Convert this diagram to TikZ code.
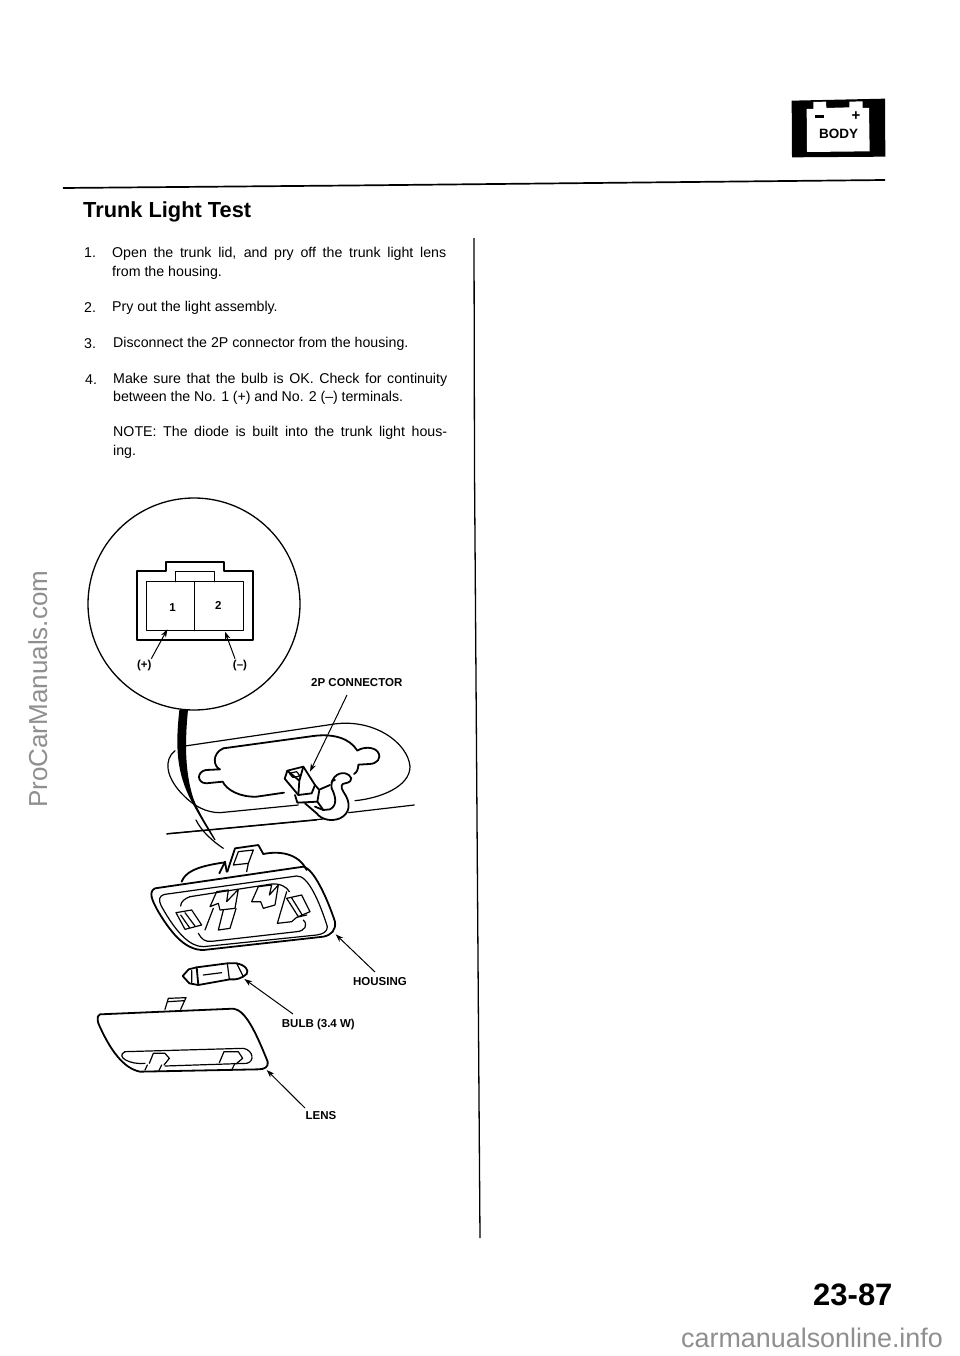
\documentclass[tikz,border=0pt]{standalone}
\usepackage{fontspec}
\setmainfont{Liberation Sans}
\usetikzlibrary{arrows.meta}
\definecolor{mark}{gray}{0.56}
\newcommand{\fitline}[2]{\makebox[#1pt][s]{#2}}
\tikzset{
  x=1pt,y=-1pt,
  bodyline/.style={anchor=base west,inner sep=0pt,font=\fontsize{14.2}{16}\selectfont},
  calloutlabel/.style={inner sep=0pt,font=\bfseries\fontsize{11.5}{13}\selectfont},
  leader/.style={line width=1pt,-{Stealth[length=8pt,width=5.5pt]}},
  art/.style={line width=1.2pt,line join=round,line cap=round},
  heavy/.style={line width=1.8pt,line join=round,line cap=round},
  zoomA/.style={shift={(80,490)},scale=1/3},
  zoomB/.style={shift={(90,820)},scale=1/3},
  zoomC/.style={shift={(750,80)},scale=1/3},
  zoomD/.style={shift={(280,740)},scale=1/3},
}
\begin{document}
\begin{tikzpicture}
\useasboundingbox[fill=white] (0,0) rectangle (960,1356);

% page furniture
\draw[line width=1.7pt] (63,188) -- (350,185.5) -- (885,180);
\draw[line width=1.3pt] (474,238) -- (474.5,470) -- (480,1238);

% battery badge
\begin{scope}[zoomC]
\fill (125,62) -- (405,56) -- (406,230) -- (126,232) -- cycle;
\fill[white] (170,87) -- (190,87) -- (190,66) -- (228,65) -- (229,84) -- (298,82) -- (298,65) -- (338,64) -- (338,84) -- (357,84) -- (359,214) -- (171,216) -- cycle;
\node[inner sep=0pt,font=\bfseries\fontsize{13.5}{15}\selectfont] (badge) at (266,162) {BODY};
\fill (194,106) rectangle (223,113);
\node[inner sep=0pt,font=\bfseries\fontsize{15}{15}\selectfont] (plus) at (318,107) {+};
\end{scope}

% text
\node[anchor=base west,inner sep=0pt,font=\bfseries\fontsize{21.8}{24}\selectfont] (title) at (83,218) {Trunk Light Test};
\node[bodyline] (n1) at (84,258) {1.};
\node[bodyline] (t1a) at (112,257.5) {\fitline{334}{Open the trunk lid, and pry off the trunk light lens}};
\node[bodyline] (t1b) at (112,276.5) {from the housing.};
\node[bodyline] (n2) at (84,312) {2.};
\node[bodyline] (t2) at (112,311.5) {Pry out the light assembly.};
\node[bodyline] (n3) at (84,348) {3.};
\node[bodyline] (t3) at (113,347) {Disconnect the 2P connector from the housing.};
\node[bodyline] (n4) at (85,384) {4.};
\node[bodyline] (t4a) at (113,383) {\fitline{334}{Make sure that the bulb is OK. Check for continuity}};
\node[bodyline] (t4b) at (113,401.5) {\fitline{290}{between the No. 1 (+) and No. 2 (–) terminals.}};
\node[bodyline] (t5a) at (113,436.5) {\fitline{334}{NOTE: The diode is built into the trunk light hous-}};
\node[bodyline] (t5b) at (113,455) {ing.};

\node[anchor=base west,inner sep=0pt,font=\bfseries\fontsize{31}{34}\selectfont] (pageno) at (813,1305) {23-87};
\node[anchor=base west,inner sep=0pt,text=mark,font=\fontsize{26.9}{30}\selectfont] (wm2) at (681,1347) {carmanualsonline.info};
\node[anchor=base west,inner sep=0pt,text=mark,rotate=90,font=\fontsize{26}{28}\selectfont] (wm1) at (47,808) {ProCarManuals.com};

% magnified connector
\node[circle,draw,line width=1.3pt,minimum size=212pt,inner sep=0pt] (detail) at (194,604) {};
\begin{scope}[zoomA]
\draw[heavy] (172,243) -- (257,243) -- (257,215) -- (433,215) -- (433,243) -- (519,243) -- (519,451) -- (172,451) -- cycle;
\draw[art] (200,275) rectangle (490,422);
\draw[art] (343,275) -- (343,422);
\draw[art] (287,275) -- (287,245) -- (403,245) -- (403,275);
\coordinate (pin1) at (262,418);
\coordinate (pin2) at (435,425);
\node[calloutlabel] (one) at (278,352) {1};
\node[calloutlabel] (two) at (415,347) {2};
\node[calloutlabel] (pos) at (193,527) {(+)};
\node[calloutlabel] (neg) at (480,527) {(–)};
% wire to the connector
\fill (298,660) .. controls (290,740) and (282,830) .. (330,925) .. controls (350,965) and (380,1015) .. (403,1050) -- (407,1050) .. controls (385,1010) and (360,975) .. (340,925) .. controls (312,840) and (316,740) .. (324,660) -- cycle;
\end{scope}
\draw[leader] (pos) ++(7,-7) coordinate (posf) -- (pin1);
\draw[leader] (neg) ++(-5,-7) coordinate (negf) -- (pin2);

% mounting plate with 2P connector
\begin{scope}[zoomA]
\draw[art] (315,768) -- (750,704) .. controls (880,680) and (985,760) .. (990,830) .. controls (990,890) and (900,925) .. (825,932);
\draw[art] (285,782) .. controls (250,810) and (260,860) .. (300,905) .. controls (340,950) and (380,968) .. (420,968) -- (655,945);
\draw[art] (262,1031) -- (730,987);
\draw[art] (806,968) -- (1003,945);
\draw[heavy] (430,775) -- (700,738) .. controls (760,730) and (810,745) .. (832,782) .. controls (850,770) and (880,770) .. (893,785) .. controls (907,805) and (890,822) .. (868,822) -- (835,824) .. controls (835,838) and (830,848) .. (822,852);
\draw[heavy] (720,885) -- (765,870);
\draw[heavy] (612,908) -- (530,920) .. controls (480,922) and (440,900) .. (428,875) -- (378,880) .. controls (350,878) and (350,845) .. (378,840) -- (420,838) .. controls (400,830) and (395,790) .. (430,775);
\end{scope}
\begin{scope}[zoomD]
\fill[white] (55,75) -- (15,115) -- (50,185) -- (120,190) -- (160,110) -- (100,125) -- cycle;
\draw[heavy] (14,116) -- (22,92) -- (70,80) -- (105,135) -- (95,160) -- (55,165) -- cycle;
\draw[heavy] (22,92) -- (58,122) -- (70,80) (58,122) -- (55,165);
\draw[art] (28,100) -- (50,95) -- (60,108) -- (38,112) -- cycle;
\draw[heavy] (45,165) -- (52,188) -- (112,185) -- (118,150) -- (105,135);
\draw[heavy] (112,185) -- (130,210) -- (150,208) .. controls (175,195) and (165,165) .. (155,145) .. controls (150,120) and (170,95) .. (195,100) .. controls (215,105) and (225,125) .. (195,130) .. controls (185,130) and (180,140) .. (190,155) .. controls (215,190) and (210,220) .. (180,235) .. controls (155,245) and (125,240) .. (110,220) -- (75,190);
\draw[heavy] (120,148) -- (150,135);
\draw[heavy] (105,200) -- (130,210);
\coordinate (plug) at (90,95);
\end{scope}
\node[calloutlabel,anchor=west] (conn) at (311,683) {2P CONNECTOR};
\draw[leader] (347,695) coordinate (connf) -- (plug);

% housing
\begin{scope}[zoomB]
\draw[art] (318,0) .. controls (335,35) and (370,65) .. (400,85);
\draw[art] (230,42) -- (680,0);
\draw[heavy] (275,185) .. controls (285,160) and (310,140) .. (405,127);
\draw[heavy] (520,102) .. controls (570,92) and (625,100) .. (650,150);
\draw[heavy] (388,160) -- (405,125) -- (410,155);
\draw[heavy] (412,155) -- (435,85) -- (505,75) -- (520,102);
\draw[art] (430,135) -- (475,130) -- (490,90) -- (445,95) -- cycle (475,130) -- (470,155);
\draw[heavy] (195,205) -- (640,140) .. controls (670,145) and (710,230) .. (735,305) .. controls (738,330) and (725,345) .. (700,350) -- (340,390) .. controls (290,390) and (250,350) .. (205,275) .. controls (185,240) and (175,215) .. (195,205);
\draw[art] (225,223) -- (620,168) .. controls (655,165) and (690,250) .. (712,320) .. controls (712,335) and (700,342) .. (680,345) -- (340,380) .. controls (300,380) and (260,340) .. (215,260) .. controls (205,240) and (205,228) .. (225,223);
\draw[art] (300,230) -- (545,192) .. controls (570,190) and (590,200) .. (598,215);
\draw[art] (300,230) .. controls (285,235) and (272,245) .. (272,258);
\draw[art] (325,340) .. controls (335,358) and (345,366) .. (365,364) -- (620,335) .. controls (645,333) and (655,315) .. (640,300);
\draw[art] (258,278) -- (305,270) -- (335,315) -- (285,328) -- cycle (272,285) -- (298,322) (285,278) -- (315,318);
\draw[art] (345,330) -- (370,265);
\draw[art] (360,260) -- (380,215) -- (415,210) -- (410,245) -- (445,208) -- (435,265) -- (390,270) -- (385,250) -- cycle;
\draw[art] (400,270) -- (385,330) -- (420,325) -- (438,266);
\draw[art] (485,245) -- (505,200) -- (545,195) -- (538,225) -- (565,195) -- (555,255) -- (520,265) -- (512,245) -- cycle;
\draw[art] (590,215) -- (562,310) -- (605,305) -- (620,292) -- (650,285);
\draw[art] (590,235) -- (635,225) -- (660,275) -- (625,290) -- cycle (604,232) -- (636,284);
\coordinate (housingpt) at (737,343);
% bulb
\draw[heavy] (320,442) -- (325,495);
\draw[heavy] (320,442) -- (412,430) -- (440,430) .. controls (465,435) and (478,450) .. (470,462) .. controls (455,475) and (440,480) .. (420,478) -- (325,495) -- (298,490) -- (278,468) -- (296,448) -- cycle;
\draw[art] (412,430) -- (418,478) (340,465) -- (395,458) (305,452) -- (305,487) (440,430) -- (460,470);
\coordinate (bulbpt) at (463,477);
% lens
\draw[heavy] (30,583) -- (430,566) .. controls (465,570) and (495,630) .. (533,725) .. controls (536,740) and (525,748) .. (505,748) -- (150,755) .. controls (100,745) and (60,690) .. (25,610) .. controls (20,590) and (25,585) .. (30,583);
\draw[art] (225,568) -- (235,535) -- (288,533) -- (272,568) (235,545) -- (282,542);
\draw[art] (105,695) -- (460,685) .. controls (490,690) and (495,725) .. (470,730) -- (225,738);
\draw[art] (165,730) .. controls (120,735) and (75,710) .. (105,695);
\draw[art] (178,730) -- (190,700) -- (225,700) -- (238,715) -- (222,735) (165,750) -- (172,735) (205,755) -- (215,735);
\draw[art] (388,728) -- (402,695) -- (445,695) -- (458,715) -- (440,730) (425,750) -- (435,730);
\coordinate (lenspt) at (530,750);
\node[calloutlabel,anchor=base] (housinglabel) at (870,495) {HOUSING};
\node[calloutlabel,anchor=base] (bulblabel) at (685,621) {BULB (3.4 W)};
\node[calloutlabel,anchor=base] (lenslabel) at (693,897) {LENS};
\end{scope}
\draw[leader] (375,972) coordinate (hf) -- (housingpt);
\draw[leader] (293,1014) coordinate (bf) -- (bulbpt);
\draw[leader] (305,1108) coordinate (lf) -- (lenspt);
\end{tikzpicture}
\end{document}
